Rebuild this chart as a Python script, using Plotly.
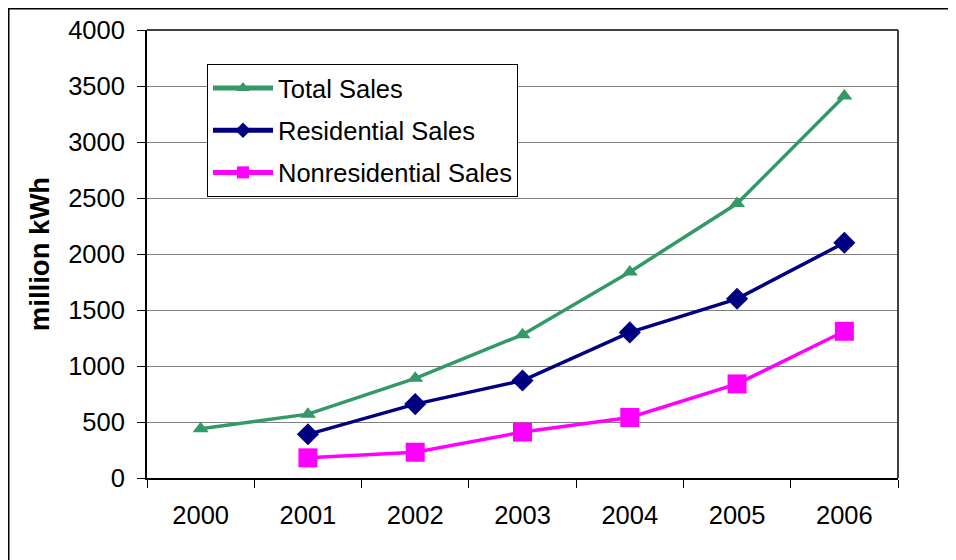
import plotly.graph_objects as go

years = ["2000", "2001", "2002", "2003", "2004", "2005", "2006"]
total_sales = [440, 570, 890, 1280, 1840, 2450, 3410]
residential_sales = [None, 390, 660, 870, 1300, 1600, 2100]
nonresidential_sales = [None, 180, 230, 410, 540, 840, 1310]
y_ticks = [0, 500, 1000, 1500, 2000, 2500, 3000, 3500, 4000]

FONT = "Liberation Sans, Arial, sans-serif"
FS = 25.5

fig = go.Figure()
fig.add_trace(go.Scatter(
    x=years, y=total_sales, name="Total Sales", mode="lines+markers",
    legendgroup="t",
    line=dict(color="#339966", width=3.5),
    marker=dict(symbol="triangle-up", size=14, color="#339966"),
))
fig.add_trace(go.Scatter(
    x=years, y=residential_sales, name="Residential Sales", mode="lines+markers",
    legendgroup="r",
    line=dict(color="#000080", width=3.5),
    marker=dict(symbol="diamond", size=17, color="#000080"),
))
fig.add_trace(go.Scatter(
    x=years, y=nonresidential_sales, name="Nonresidential Sales", mode="lines+markers",
    legendgroup="n",
    line=dict(color="#FF00FF", width=3.5),
    marker=dict(symbol="square", size=19, color="#FF00FF"),
))

W, H = 948, 552
L, R, T, B = 139, 58, 22, 82
pw, ph = W - L - R, H - T - B

fig.update_layout(
    width=W, height=H,
    margin=dict(l=L, r=R, t=T, b=B, autoexpand=False),
    paper_bgcolor="white", plot_bgcolor="white",
    font=dict(family=FONT, size=FS, color="black"),
    showlegend=True,
    legend=dict(
        x=(199 - L) / pw, y=(470 - 56) / ph, xanchor="left", yanchor="top",
        bgcolor="white", bordercolor="black", borderwidth=1,
        font=dict(family=FONT, size=FS, color="black"),
        itemwidth=60, tracegroupgap=6, traceorder="grouped",
        itemsizing="constant",
    ),
    xaxis=dict(
        type="category", range=[-0.5, 6.5], tickson="boundaries",
        ticks="outside", ticklen=8, tickcolor="black", tickwidth=1,
        showline=True, linecolor="black", linewidth=2, mirror=False,
        showgrid=False, zeroline=False, ticklabelstandoff=13,
        automargin=False,
        tickfont=dict(family=FONT, size=FS, color="black"),
    ),
    yaxis=dict(
        range=[0, 4000], tickvals=y_ticks,
        ticks="outside", ticklen=8, tickcolor="black", tickwidth=1,
        showline=True, linecolor="black", linewidth=2,
        showgrid=True, gridcolor="#808080", gridwidth=1, zeroline=False,
        ticklabelstandoff=7, automargin=False,
        tickfont=dict(family=FONT, size=FS, color="black"),
        title=dict(text="<b>million kWh</b>", standoff=11,
                   font=dict(family=FONT, size=27.5, color="black")),
    ),
    shapes=[
        # plot area frame (top and right)
        dict(type="line", xref="paper", yref="paper", x0=0, x1=1, y0=1, y1=1,
             line=dict(color="#404040", width=2)),
        dict(type="line", xref="paper", yref="paper", x0=1, x1=1, y0=0, y1=1,
             line=dict(color="#404040", width=2)),
        # outer chart border
        dict(type="rect", xref="paper", yref="paper",
             x0=(0.75 - L) / pw, x1=2.0, y0=-1.0, y1=(470 - 0.75) / ph,
             line=dict(color="black", width=1.5), layer="below"),
    ],
)

fig.write_html("out.html")
